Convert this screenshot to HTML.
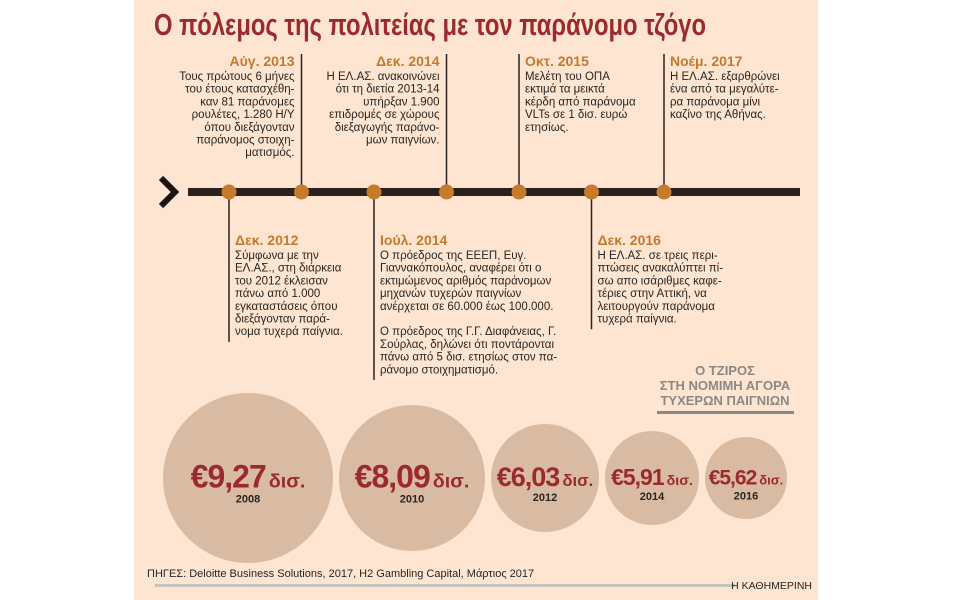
<!DOCTYPE html>
<html><head><meta charset="utf-8">
<style>
html,body{margin:0;padding:0;background:#fff;}
svg{display:block;font-family:"Liberation Sans","DejaVu Sans",sans-serif;}
.h{fill:#c47a2c;font-weight:bold;font-size:14px;}
.b{fill:#2a2520;font-size:11.5px;}
</style></head>
<body>
<svg id="chart" width="960" height="600" viewBox="0 0 960 600">
  <rect x="134" y="0" width="684" height="600" fill="#fde5d2"/>
  <text x="154" y="35" font-size="31" font-weight="bold" fill="#9b2a2f" textLength="552" lengthAdjust="spacingAndGlyphs">Ο πόλεμος της πολιτείας με τον παράνομο τζόγο</text>

  <g>
    <polyline points="161,178 175,192 161,206" fill="none" stroke="#1a1512" stroke-width="6"/>
    <rect x="188" y="188" width="612" height="8" fill="#2a211c"/>
    <g id="events"></g>
  </g>

  <g id="bubbles"></g>

  <g font-weight="bold" fill="#8c8884" font-size="13" text-anchor="middle">
    <text x="725" y="375">Ο ΤΖΙΡΟΣ</text>
    <text x="725" y="390">ΣΤΗ ΝΟΜΙΜΗ ΑΓΟΡΑ</text>
    <text x="725" y="405">ΤΥΧΕΡΩΝ ΠΑΙΓΝΙΩΝ</text>
    <rect x="657" y="411" width="137" height="3" fill="#8c8884"/>
  </g>

  <text x="147" y="577" font-size="11" fill="#2a2520">ΠΗΓΕΣ: Deloitte Business Solutions, 2017, H2 Gambling Capital, Μάρτιος 2017</text>
  <rect x="155" y="584" width="580" height="3" fill="#c9c3bd"/>
  <text x="812" y="589" font-size="10.5" fill="#2a2520" text-anchor="end">Η ΚΑΘΗΜΕΡΙΝΗ</text>
</svg>
<script>
const years = ["2008","2010","2012","2014","2016"];
const values = [9.27, 8.09, 6.03, 5.91, 5.62];
const valueLabels = ["€9,27","€8,09","€6,03","€5,91","€5,62"];
const radii = [85, 73, 54, 47, 41];
const labelFontSizes = [32, 32, 27, 23, 21];

const eventDates = ["Δεκ. 2012","Αύγ. 2013","Ιούλ. 2014","Δεκ. 2014","Οκτ. 2015","Δεκ. 2016","Νοέμ. 2017"];
const eventSides = ["below","above-right","below","above-right","above-left","below","above-left"];
const eventTexts = [
 ["Σύμφωνα με την","ΕΛ.ΑΣ., στη διάρκεια","του 2012 έκλεισαν","πάνω από 1.000","εγκαταστάσεις όπου","διεξάγονταν παρά-","νομα τυχερά παίγνια."],
 ["Τους πρώτους 6 μήνες","του έτους κατασχέθη-","καν 81 παράνομες","ρουλέτες, 1.280 Η/Υ","όπου διεξάγονταν","παράνομος στοιχη-","ματισμός."],
 ["Ο πρόεδρος της ΕΕΕΠ, Ευγ.","Γιαννακόπουλος, αναφέρει ότι ο","εκτιμώμενος αριθμός παράνομων","μηχανών τυχερών παιγνίων","ανέρχεται σε 60.000 έως 100.000.","","Ο πρόεδρος της Γ.Γ. Διαφάνειας, Γ.","Σούρλας, δηλώνει ότι ποντάρονται","πάνω από 5 δισ. ετησίως στον πα-","ράνομο στοιχηματισμό."],
 ["Η ΕΛ.ΑΣ. ανακοινώνει","ότι τη διετία 2013-14","υπήρξαν 1.900","επιδρομές σε χώρους","διεξαγωγής παράνο-","μων παιγνίων."],
 ["Μελέτη του ΟΠΑ","εκτιμά τα μεικτά","κέρδη από παράνομα","VLTs σε 1 δισ. ευρώ","ετησίως."],
 ["Η ΕΛ.ΑΣ. σε τρεις περι-","πτώσεις ανακαλύπτει πί-","σω απο ισάριθμες καφε-","τέριες στην Αττική, να","λειτουργούν παράνομα","τυχερά παίγνια."],
 ["Η ΕΛ.ΑΣ. εξαρθρώνει","ένα από τα μεγαλύτε-","ρα παράνομα μίνι","καζίνο της Αθήνας."]
];

const NS = "http://www.w3.org/2000/svg";
function mk(tag, attrs, parent){ const e=document.createElementNS(NS,tag); for(const k in attrs) e.setAttribute(k,attrs[k]); if(parent) parent.appendChild(e); return e; }

const tx0 = 229, tstep = 72.5, ty = 192;
function tX(i){ return tx0 + i*tstep; }
const ev = document.getElementById('events');
eventDates.forEach((d,i)=>{
  const x = tX(i);
  const g = mk('g',{},ev);
  
  
  const lines = eventTexts[i];
  const lh = 12.7;
  if(eventSides[i]==='below'){
    const y2 = 256 + lines.length*lh - 3;
    const ln = mk('line',{x1:x,y1:ty,x2:x,y2:y2,stroke:'#2a211c','stroke-width':1.5},g);
    
    
    const h = mk('text',{x:x+6,y:245,class:'h'},g); h.textContent=d;
    
    
    lines.forEach((t,j)=>{ const tt=mk('text',{x:x+6,y:259+j*lh,class:'b'},g); tt.textContent=t; });
  } else {
    const right = eventSides[i]==='above-right';
    const ln = mk('line',{x1:x,y1:54,x2:x,y2:ty,stroke:'#2a211c','stroke-width':1.5},g);
    
    
    const tx = right ? x-7 : x+6;
    const anchor = right ? 'end' : 'start';
    const h = mk('text',{x:tx,y:66,class:'h','text-anchor':anchor},g); h.textContent=d;
    
    
    lines.forEach((t,j)=>{ const tt=mk('text',{x:tx,y:80+j*lh,class:'b','text-anchor':anchor},g); tt.textContent=t; });
  }
  const c = mk('circle',{cx:x,cy:ty,r:7.5,fill:'#c57a2c'},g);
  
  
});

const bg = document.getElementById('bubbles');
const cy = 478;
let cursor = 163;
const gaps = 6;
years.forEach((yr,i)=>{
  const r = radii[i];
  const cx = cursor + r;
  cursor = cx + r + gaps;
  const g = mk('g',{},bg);
  
  
  mk('circle',{cx:cx,cy:cy,r:r,fill:'#d9bba3'},g);
  const fs = labelFontSizes[i];
  const t = mk('text',{x:cx,y:cy+fs*0.3,'text-anchor':'middle',fill:'#9b2a2f','font-weight':'bold','letter-spacing':'-1'},g);
  const s1 = mk('tspan',{'font-size':fs},t); s1.textContent = valueLabels[i];
  const s2 = mk('tspan',{'font-size':fs*0.62,dx:3,'letter-spacing':'0'},t); s2.textContent='δισ.';
  
  
  const yt = mk('text',{x:cx,y:cy+fs*0.3+15,'text-anchor':'middle','font-size':11,'font-weight':'bold',fill:'#2a2520'},g);
  yt.textContent = yr;
  
  
});
</script>
</body></html>
